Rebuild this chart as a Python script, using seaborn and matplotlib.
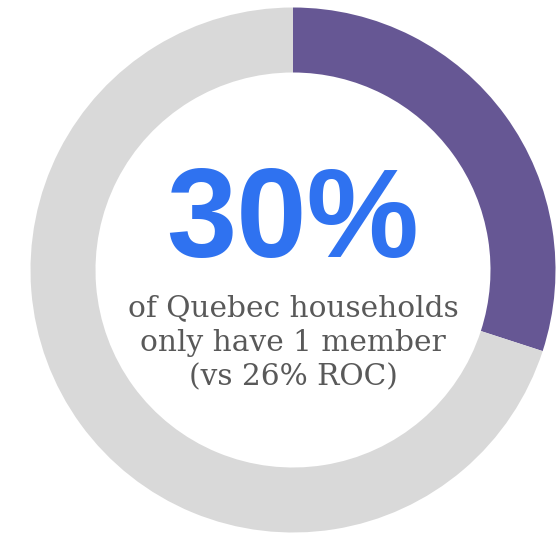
import matplotlib
matplotlib.use("Agg")
import matplotlib.pyplot as plt
import seaborn as sns

# Share of Quebec households with a single member
labels = ["1 member", "Other"]
shares = [30, 70]
headline = "30%"
caption_lines = ["of Quebec households", "only have 1 member", "(vs 26% ROC)"]

colors = ["#665794", "#d9d9d9"]

sns.set_theme(style="white")
W, H = 560, 533
fig = plt.figure(figsize=(W / 100, H / 100), dpi=100)
ax = fig.add_axes([0, 0, 1, 1])
ax.set_xlim(0, W)
ax.set_ylim(0, H)

cx, cy = 293, H - 270
outer_r, ring_w = 262.5, 65
ax.pie(shares, colors=colors, startangle=90, counterclock=False,
       radius=outer_r, center=(cx, cy),
       wedgeprops=dict(width=ring_w, edgecolor="none", linewidth=0))
ax.set_xlim(0, W)
ax.set_ylim(0, H)
ax.set_aspect("equal")
ax.axis("off")

ax.text(cx, H - 257, headline, ha="center", va="baseline",
        fontsize=91, fontweight="bold", color="#2f72f0",
        family=["Liberation Sans", "DejaVu Sans"])

baselines = [316, 351, 385]
for line, yb in zip(caption_lines, baselines):
    ax.text(cx, H - yb, line, ha="center", va="baseline",
            fontsize=21.3, color="#595959",
            family=["DejaVu Serif"])

fig.savefig("out.png", dpi=100)
